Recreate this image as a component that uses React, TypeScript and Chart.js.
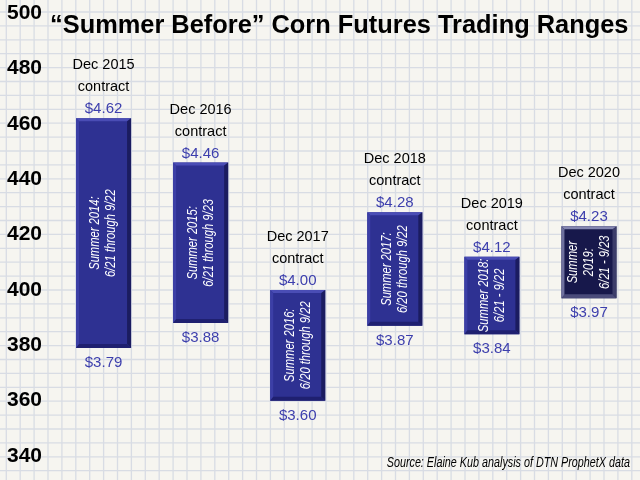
import React, { useEffect, useRef } from "react";
import { Chart, registerables } from "chart.js";

Chart.register(...registerables);

const contracts = ["Dec 2015", "Dec 2016", "Dec 2017", "Dec 2018", "Dec 2019", "Dec 2020"];
const lows = [379, 388, 360, 387, 384, 397];
const highs = [462, 446, 400, 428, 412, 423];
const periods = [
  ["Summer 2014:", "6/21 through 9/22"],
  ["Summer 2015:", "6/21 through 9/23"],
  ["Summer 2016:", "6/20 through 9/22"],
  ["Summer 2017:", "6/20 through 9/22"],
  ["Summer 2018:", "6/21 - 9/22"],
  ["Summer", "2019:", "6/21 - 9/23"],
];
const yMin = 340;
const yMax = 500;
const yStep = 20;
const titleText = "\u201CSummer Before\u201D Corn Futures Trading Ranges";
const sourceText = "Source: Elaine Kub analysis of DTN ProphetX data";

const fills = ["#2e3192", "#2e3192", "#2e3192", "#2e3192", "#2e3192", "#17184b"];
const bevels = [
  ["#4a4db5", "#3c3fa6", "#1b1c60", "#1f2070"],
  ["#4a4db5", "#3c3fa6", "#1b1c60", "#1f2070"],
  ["#4a4db5", "#3c3fa6", "#1b1c60", "#1f2070"],
  ["#4a4db5", "#3c3fa6", "#1b1c60", "#1f2070"],
  ["#4a4db5", "#3c3fa6", "#1b1c60", "#1f2070"],
  ["#8486b0", "#6e709e", "#3b3c6a", "#4a4b7a"],
];

const FONT = "'Liberation Sans', Arial, Helvetica, sans-serif";
const VALUE_COLOR = "#3d3fad";

function poly(ctx: CanvasRenderingContext2D, pts: number[][], color: string) {
  ctx.beginPath();
  ctx.moveTo(pts[0][0], pts[0][1]);
  for (let i = 1; i < pts.length; i++) ctx.lineTo(pts[i][0], pts[i][1]);
  ctx.closePath();
  ctx.fillStyle = color;
  ctx.fill();
}

function condensedText(
  ctx: CanvasRenderingContext2D,
  text: string,
  x: number,
  y: number,
  sx: number,
  align: CanvasTextAlign
) {
  ctx.save();
  ctx.translate(x, y);
  ctx.scale(sx, 1);
  ctx.textAlign = align;
  ctx.fillText(text, 0, 0);
  ctx.restore();
}

const paperPlugin = {
  id: "paper",
  beforeDraw(chart: any) {
    const { ctx, width, height } = chart;
    ctx.save();
    ctx.fillStyle = "#f6f5f0";
    ctx.fillRect(0, 0, width, height);
    ctx.strokeStyle = "#d8dce4";
    ctx.lineWidth = 1.3;
    const step = 13.9;
    for (let x = 6.3; x < width; x += step) {
      ctx.beginPath();
      ctx.moveTo(x, 0);
      ctx.lineTo(x, height);
      ctx.stroke();
    }
    for (let y = 12; y < height; y += step) {
      ctx.beginPath();
      ctx.moveTo(0, y);
      ctx.lineTo(width, y);
      ctx.stroke();
    }
    ctx.restore();
  },
};

const labelsPlugin = {
  id: "barLabels",
  afterDatasetsDraw(chart: any) {
    const ctx: CanvasRenderingContext2D = chart.ctx;
    const meta = chart.getDatasetMeta(0);
    ctx.save();
    meta.data.forEach((el: any, i: number) => {
      const p = el.getProps(["x", "y", "base", "width"], true);
      const l = p.x - p.width / 2;
      const r = p.x + p.width / 2;
      const t = Math.min(p.y, p.base);
      const b = Math.max(p.y, p.base);
      const e = 3;
      const [top, left, right, bottom] = bevels[i];
      poly(ctx, [[l, t], [r, t], [r - e, t + e], [l + e, t + e]], top);
      poly(ctx, [[l, t], [l + e, t + e], [l + e, b - e], [l, b]], left);
      poly(ctx, [[r, t], [r, b], [r - e - 1, b - e - 1], [r - e - 1, t + e]], right);
      poly(ctx, [[l, b], [r, b], [r - e - 1, b - e - 1], [l + e, b - e - 1]], bottom);

      // labels above
      ctx.textBaseline = "alphabetic";
      ctx.fillStyle = "#000000";
      ctx.font = `14.5px ${FONT}`;
      condensedText(ctx, contracts[i], p.x, t - 49, 1, "center");
      condensedText(ctx, "contract", p.x, t - 27, 1, "center");
      ctx.fillStyle = VALUE_COLOR;
      ctx.font = `15.5px ${FONT}`;
      condensedText(ctx, "$" + (highs[i] / 100).toFixed(2), p.x, t - 5, 0.97, "center");
      condensedText(ctx, "$" + (lows[i] / 100).toFixed(2), p.x, b + 19, 0.97, "center");

      // rotated period text
      const lines = periods[i];
      const lh = 16;
      ctx.save();
      ctx.translate(p.x, (t + b) / 2);
      ctx.rotate(-Math.PI / 2);
      ctx.fillStyle = "#ffffff";
      ctx.font = `italic 14px ${FONT}`;
      ctx.textBaseline = "middle";
      const n = lines.length;
      lines.forEach((ln, k) => {
        const off = (k - (n - 1) / 2) * lh;
        ctx.save();
        ctx.translate(0, off);
        ctx.scale(0.8, 1);
        ctx.textAlign = "center";
        ctx.fillText(ln, 0, 0);
        ctx.restore();
      });
      ctx.restore();
    });
    ctx.restore();
  },
  afterDraw(chart: any) {
    const ctx: CanvasRenderingContext2D = chart.ctx;
    ctx.save();
    ctx.fillStyle = "#000000";
    ctx.textBaseline = "alphabetic";
    ctx.font = `bold 25.4px ${FONT}`;
    ctx.textAlign = "left";
    ctx.fillText(titleText, 50, 33);
    ctx.font = `italic 14px ${FONT}`;
    condensedText(ctx, sourceText, 630, 467, 0.77, "right");
    ctx.restore();
  },
};

export default function App() {
  const canvasRef = useRef<HTMLCanvasElement | null>(null);

  useEffect(() => {
    if (!canvasRef.current) return;
    const chart = new Chart(canvasRef.current, {
      type: "bar",
      data: {
        labels: contracts,
        datasets: [
          {
            data: lows.map((lo, i) => [lo, highs[i]]) as any,
            backgroundColor: fills,
            borderWidth: 0,
            categoryPercentage: 1,
            barPercentage: 0.567,
          },
        ],
      },
      options: {
        animation: false,
        responsive: false,
        devicePixelRatio: 1,
        layout: { padding: { top: 13, bottom: 24, left: 0, right: 2.5 } },
        plugins: {
          legend: { display: false },
          title: { display: false },
          tooltip: { enabled: false },
        },
        scales: {
          x: { display: false },
          y: {
            min: yMin,
            max: yMax,
            grid: { display: false },
            border: { display: false },
            afterFit: (scale: any) => {
              scale.width = 55;
              scale.paddingTop = 0;
              scale.paddingBottom = 0;
            },
            ticks: {
              stepSize: yStep,
              padding: 5,
              color: "#000000",
              font: { family: FONT, size: 21, weight: "bold" },
            },
          },
        },
      },
      plugins: [paperPlugin, labelsPlugin],
    });
    return () => chart.destroy();
  }, []);

  return (
    <div style={{ position: "absolute", left: 0, top: 0, width: 640, height: 480 }}>
      <canvas ref={canvasRef} width={640} height={480} />
    </div>
  );
}
